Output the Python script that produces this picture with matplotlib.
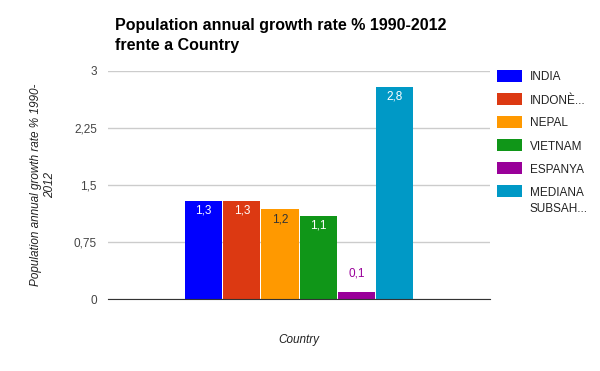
import matplotlib.pyplot as plt
from matplotlib.patches import Rectangle

countries = ["INDIA", "INDONÈ...", "NEPAL", "VIETNAM", "ESPANYA", "MEDIANA\nSUBSAH..."]
values = [1.29, 1.29, 1.18, 1.09, 0.09, 2.79]
colors = ["#0000ff", "#dc3912", "#ff9900", "#109618", "#990099", "#0099c6"]
label_colors = ["white", "white", "#333333", "white", "#990099", "white"]
yticks = [0, 0.75, 1.5, 2.25, 3]
yticklabels = ["0", "0,75", "1,5", "2,25", "3"]

plt.rcParams["font.family"] = ["Liberation Sans", "DejaVu Sans"]

W, H = 600, 371
fig = plt.figure(figsize=(W / 100, H / 100), dpi=100)
ax = fig.add_axes([0.18, 0.194, 0.637, 0.615])

w = 0.1
for i, (v, c) in enumerate(zip(values, colors)):
    x = -0.25 + i * w
    ax.bar(x, v, width=w * 0.97, color=c, zorder=2)
    txt = "{:.1f}".format(v).replace(".", ",")
    if v > 0.3:
        ax.text(x, v - 0.05, txt, ha="center", va="top", fontsize=8.5, color=label_colors[i], zorder=3)
    else:
        ax.text(x, v + 0.17, txt, ha="center", va="bottom", fontsize=8.5, color=label_colors[i], zorder=3)

ax.set_xlim(-0.5, 0.5)
ax.set_ylim(0, 3)
ax.set_yticks(yticks)
ax.set_yticklabels(yticklabels, fontsize=8.5, color="#444444")
ax.set_xticks([])
ax.tick_params(axis="y", length=0, pad=8)
ax.grid(axis="y", color="#cccccc", linewidth=1, zorder=0)
for s in ["top", "right", "left"]:
    ax.spines[s].set_visible(False)
ax.spines["bottom"].set_color("#333333")
ax.spines["bottom"].set_zorder(4)

ax.set_xlabel("Country", fontsize=8.5, style="italic", color="#222222", labelpad=25)
ax.set_ylabel("Population annual growth rate % 1990-\n2012", fontsize=8.5, style="italic",
              color="#222222", labelpad=13)

fig.text(0.192, 0.93, "Population annual growth rate % 1990-2012", fontsize=11.5,
         fontweight="bold", ha="left", va="center")
fig.text(0.192, 0.877, "frente a Country", fontsize=11.5, fontweight="bold", ha="left", va="center")

# legend drawn by hand to match spacing
for i, (name, c) in enumerate(zip(countries, colors)):
    yc = 76 + 23 * i
    fig.patches.append(Rectangle((497 / W, 1 - (yc + 6) / H), 25 / W, 12 / H,
                                 facecolor=c, transform=fig.transFigure, figure=fig))
    fig.text(530 / W, 1 - (yc - 4.5) / H, name, fontsize=8.5, color="#222222",
             ha="left", va="top", linespacing=1.45)

fig.savefig("out.png", dpi=100)
